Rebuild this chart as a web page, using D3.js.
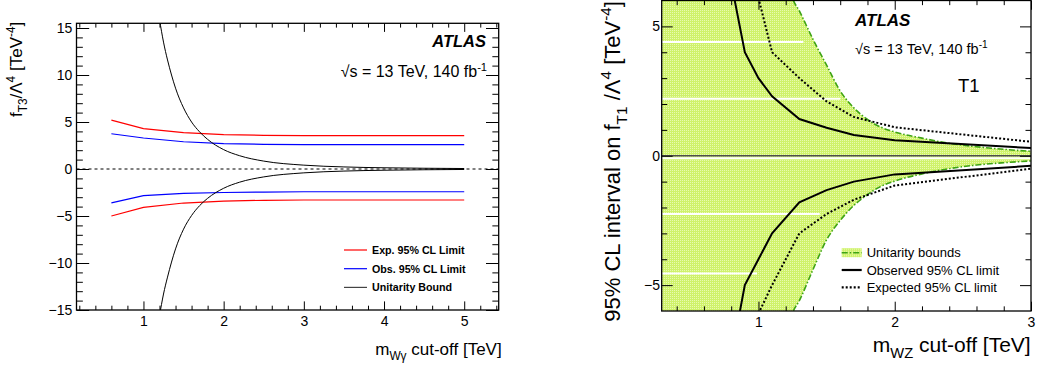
<!DOCTYPE html>
<html>
<head>
<meta charset="utf-8">
<script src="https://cdn.jsdelivr.net/npm/d3@7"></script>
<style>
body { margin: 0; background: #fff; }
svg text { font-family: "Liberation Sans", Arial, Helvetica, sans-serif; fill: #000; }
</style>
</head>
<body>
<svg id="chart" width="1038" height="367"></svg>
<script>
// ---- left panel: W gamma, f_T3 limits vs m(W gamma) cut-off ----
var wgMass   = [0.6, 1.0, 1.5, 2.0, 2.5, 3.0, 4.0, 5.0];
var wgExpUp  = [5.2, 4.3, 3.88, 3.65, 3.58, 3.55, 3.55, 3.55];
var wgExpLow = [-5.0, -4.08, -3.62, -3.42, -3.33, -3.3, -3.3, -3.3];
var wgObsUp  = [3.75, 3.3, 2.9, 2.7, 2.63, 2.6, 2.6, 2.6];
var wgObsLow = [-3.6, -2.84, -2.6, -2.5, -2.45, -2.42, -2.42, -2.42];
var wgUniMass = [1.2, 1.25, 1.3, 1.35, 1.4, 1.5, 1.6, 1.7, 1.8, 2.0, 2.2, 2.5, 3.0, 3.5, 4.0, 4.5, 5.0];
var wgUniUp   = [15.9, 13.5, 11.6, 10.0, 8.6, 6.5, 5.0, 3.95, 3.15, 2.06, 1.41, 0.84, 0.41, 0.22, 0.13, 0.08, 0.05];
var wgUniLow  = [-15.6, -13.3, -11.5, -9.9, -8.5, -6.4, -4.95, -3.9, -3.12, -2.05, -1.4, -0.84, -0.41, -0.22, -0.13, -0.08, -0.05];
var wgXTicks = [1, 2, 3, 4, 5];
var wgYTicks = [-15, -10, -5, 0, 5, 10, 15];
var wgLegend = ["Exp. 95% CL Limit", "Obs. 95% CL Limit", "Unitarity Bound"];

// ---- right panel: WZ, f_T1 interval vs m(WZ) cut-off ----
var wzObsMass = [0.8, 0.9, 1.0, 1.1, 1.3, 1.5, 1.7, 2.0, 3.0];
var wzObsUp   = [6.7, 4.0, 3.0, 2.3, 1.42, 1.08, 0.8, 0.6, 0.3];
var wzObsLow  = [-7.8, -5.0, -4.0, -3.0, -1.8, -1.33, -1.0, -0.72, -0.39];
var wzExpMass = [1.0, 1.1, 1.3, 1.5, 1.7, 2.0, 3.0];
var wzExpUp   = [6.1, 4.0, 3.0, 2.1, 1.5, 1.1, 0.54];
var wzExpLow  = [-6.1, -5.0, -3.0, -2.25, -1.7, -1.15, -0.5];
var wzUniMass = [1.2, 1.25, 1.3, 1.4, 1.5, 1.6, 1.7, 1.8, 1.9, 2.0, 2.2, 2.4, 2.6, 2.8, 3.0];
var wzUniUp   = [7.3, 6.1, 5.6, 4.5, 3.5, 2.5, 1.85, 1.4, 1.1, 0.92, 0.68, 0.48, 0.35, 0.25, 0.17];
var wzUniLow  = [-7.3, -6.1, -5.6, -4.4, -3.25, -2.5, -1.92, -1.5, -1.18, -0.98, -0.7, -0.5, -0.36, -0.27, -0.2];
var wzXTicks = [1, 2, 3];
var wzYTicks = [-5, 0, 5];
var wzLegend = ["Unitarity bounds", "Observed 95% CL limit", "Expected 95% CL limit"];
// white seams in the filled band: [value, end of seam in TeV]
var wzSeams = [[4.4, 1.33], [2.2, 1.6], [-0.1, 3.0], [-2.25, 1.45], [-4.55, 0.99]];

var svg = d3.select("#chart");
var font = '"Liberation Sans", Arial, Helvetica, sans-serif';
var green = "#3ea314";

// text with sub/superscripts: parts = [[text, "sub"|"sup"|undefined], ...]
function richText(sel, parts, size) {
    var cur = 0;
    parts.forEach(function(p) {
        var off = p[1] === "sub" ? 0.3 * size : p[1] === "sup" ? -0.42 * size : 0;
        sel.append("tspan")
            .attr("dy", off - cur)
            .attr("font-size", p[1] ? size * 0.7 : size)
            .text(p[0]);
        cur = off;
    });
}

function isInt(v) { return Math.abs(v - Math.round(v)) < 1e-6; }

function addTicks(axisFn, scale, tr, major, minor, len, pad, labelled) {
    var gMin = svg.append("g").attr("transform", tr)
        .call(axisFn(scale).tickValues(minor).tickSize(-len / 2).tickFormat(""));
    gMin.select(".domain").remove();
    var gMaj = svg.append("g").attr("transform", tr)
        .call(axisFn(scale).tickValues(major).tickSize(-len).tickPadding(pad)
            .tickFormat(labelled ? d3.format("d") : function() { return ""; }));
    gMaj.select(".domain").remove();
    gMaj.selectAll("text").attr("font-size", 14).attr("font-family", font).attr("fill", "#000");
}

function frame(x, y, xMajor, xMinor, yMajor, yMinor, xLen, yLen, xPad, yPad) {
    var x0 = x.range()[0], x1 = x.range()[1], y0 = y.range()[0], y1 = y.range()[1];
    addTicks(d3.axisBottom, x, "translate(0," + y0 + ")", xMajor, xMinor, xLen, xPad, true);
    addTicks(d3.axisTop, x, "translate(0," + y1 + ")", xMajor, xMinor, xLen, 0, false);
    addTicks(d3.axisLeft, y, "translate(" + x0 + ",0)", yMajor, yMinor, yLen, yPad, true);
    addTicks(d3.axisRight, y, "translate(" + x1 + ",0)", yMajor, yMinor, yLen, 0, false);
    svg.append("rect")
        .attr("x", x0).attr("y", y1)
        .attr("width", x1 - x0).attr("height", y0 - y1)
        .attr("fill", "none").attr("stroke", "#000").attr("stroke-width", 1.3);
}

var defs = svg.append("defs");
var pat = defs.append("pattern").attr("id", "uniFill")
    .attr("patternUnits", "userSpaceOnUse").attr("width", 2).attr("height", 2);
pat.append("rect").attr("width", 2).attr("height", 2).attr("fill", "#cff26a");
pat.append("rect").attr("width", 1).attr("height", 1).attr("fill", "#e8fab0");

// ================= left panel =================
var xL = d3.scaleLinear().domain([0.165, 5.43]).range([76.5, 498.7]);
var yL = d3.scaleLinear().domain([-15, 15.5]).range([310, 23.3]);

defs.append("clipPath").attr("id", "clipL").append("rect")
    .attr("x", 76.5).attr("y", 23.3).attr("width", 422.2).attr("height", 286.7);

var gL = svg.append("g").attr("clip-path", "url(#clipL)");
var lineL = d3.line().x(function(d) { return xL(d[0]); }).y(function(d) { return yL(d[1]); });

gL.append("line")
    .attr("x1", xL.range()[0]).attr("x2", xL.range()[1])
    .attr("y1", yL(0)).attr("y2", yL(0))
    .attr("stroke", "#000").attr("stroke-width", 1).attr("stroke-dasharray", "3,3");

[[wgExpUp, "#ff0000"], [wgExpLow, "#ff0000"], [wgObsUp, "#0000ff"], [wgObsLow, "#0000ff"]].forEach(function(s) {
    gL.append("path")
        .datum(d3.zip(wgMass, s[0]))
        .attr("fill", "none")
        .attr("stroke", s[1])
        .attr("stroke-width", 1.2)
        .attr("d", lineL);
});

[wgUniUp, wgUniLow].forEach(function(vals) {
    gL.append("path")
        .datum(d3.zip(wgUniMass, vals))
        .attr("fill", "none")
        .attr("stroke", "#000")
        .attr("stroke-width", 1)
        .attr("d", lineL.curve(d3.curveMonotoneX));
});
lineL.curve(d3.curveLinear);

frame(xL, yL, wgXTicks,
    d3.range(1, 28).map(function(i) { return i * 0.2; }).filter(function(v) { return !isInt(v); }),
    wgYTicks,
    d3.range(-15, 16).filter(function(v) { return v % 5 !== 0; }),
    8.6, 12.7, 5.8, 4.2);

// legend
var legL = svg.append("g").selectAll("g")
    .data(wgLegend)
    .enter().append("g")
    .attr("transform", function(d, i) { return "translate(0," + (250 + i * 18.7) + ")"; });
legL.append("line")
    .attr("x1", 344).attr("x2", 367)
    .attr("stroke", function(d, i) { return ["#ff0000", "#0000ff", "#444"][i]; })
    .attr("stroke-width", 1.2);
legL.append("text")
    .attr("x", 372).attr("dy", "0.36em")
    .attr("font-size", 10.7).attr("font-weight", "bold")
    .text(function(d) { return d; });

svg.append("text")
    .attr("x", 486).attr("y", 47.3)
    .attr("text-anchor", "end")
    .attr("font-size", 16.5).attr("font-weight", "bold").attr("font-style", "italic")
    .text("ATLAS");
richText(svg.append("text").attr("x", 340.7).attr("y", 77.3),
    [["\u221As = 13 TeV, 140 fb"], ["-1", "sup"]], 16);

richText(svg.append("text").attr("x", 501.7).attr("y", 355).attr("text-anchor", "end"),
    [["m"], ["W\u03B3", "sub"], [" cut-off [TeV]"]], 17);
richText(svg.append("text").attr("transform", "translate(22,21.7) rotate(-90)").attr("text-anchor", "end"),
    [["f"], ["T3", "sub"], ["/\u039B"], ["4", "sup"], [" [TeV"], ["-4", "sup"], ["]"]], 17);

// ================= right panel =================
var xR = d3.scaleLinear().domain([0.29, 3.0]).range([661.7, 1031]);
var yR = d3.scaleLinear().domain([-6, 6]).range([311, 0.5]);

defs.append("clipPath").attr("id", "clipR").append("rect")
    .attr("x", 661.7).attr("y", 0.5).attr("width", 369.3).attr("height", 310.5);

var gR = svg.append("g").attr("clip-path", "url(#clipR)");
var lineR = d3.line().x(function(d) { return xR(d[0]); }).y(function(d) { return yR(d[1]); });

var uniPts = d3.zip(wzUniMass, wzUniUp, wzUniLow);
uniPts.unshift([xR.domain()[0], wzUniUp[0], wzUniLow[0]]);
gR.append("path")
    .datum(uniPts)
    .attr("fill", "url(#uniFill)")
    .attr("d", d3.area()
        .x(function(d) { return xR(d[0]); })
        .y0(function(d) { return yR(d[2]); })
        .y1(function(d) { return yR(d[1]); })
        .curve(d3.curveMonotoneX));

gR.selectAll(".seam")
    .data(wzSeams)
    .enter().append("line")
    .attr("x1", xR.range()[0]).attr("x2", function(d) { return xR(d[1]); })
    .attr("y1", function(d) { return yR(d[0]); }).attr("y2", function(d) { return yR(d[0]); })
    .attr("stroke", "#fff").attr("stroke-width", 2);

gR.append("line")
    .attr("x1", xR.range()[0]).attr("x2", xR.range()[1])
    .attr("y1", yR(0)).attr("y2", yR(0))
    .attr("stroke", "#4d4d4d").attr("stroke-width", 1.6);

[wzUniUp, wzUniLow].forEach(function(vals) {
    gR.append("path")
        .datum(d3.zip(wzUniMass, vals))
        .attr("fill", "none")
        .attr("stroke", green)
        .attr("stroke-width", 1.6)
        .attr("stroke-dasharray", "6,2,1.5,2")
        .attr("d", lineR.curve(d3.curveMonotoneX));
});
lineR.curve(d3.curveLinear);

[wzObsUp, wzObsLow].forEach(function(vals) {
    gR.append("path")
        .datum(d3.zip(wzObsMass, vals))
        .attr("fill", "none")
        .attr("stroke", "#000")
        .attr("stroke-width", 2)
        .attr("d", lineR);
});
[wzExpUp, wzExpLow].forEach(function(vals) {
    gR.append("path")
        .datum(d3.zip(wzExpMass, vals))
        .attr("fill", "none")
        .attr("stroke", "#000")
        .attr("stroke-width", 2)
        .attr("stroke-dasharray", "2,2")
        .attr("d", lineR);
});

frame(xR, yR, wzXTicks,
    d3.range(2, 16).map(function(i) { return i * 0.2; }).filter(function(v) { return !isInt(v) && v > 0.29; }),
    wzYTicks,
    d3.range(-5, 6).filter(function(v) { return v % 5 !== 0; }),
    9.3, 11, 5.7, 1.7);

// legend
var legR = svg.append("g").selectAll("g")
    .data(wzLegend)
    .enter().append("g")
    .attr("transform", function(d, i) { return "translate(0," + (252.7 + i * 17.3) + ")"; });
legR.filter(function(d, i) { return i === 0; }).append("rect")
    .attr("x", 841.7).attr("y", -4.5).attr("width", 20).attr("height", 9)
    .attr("fill", "url(#uniFill)");
legR.append("line")
    .attr("x1", 841.7).attr("x2", 861.7)
    .attr("stroke", function(d, i) { return i === 0 ? green : "#000"; })
    .attr("stroke-width", function(d, i) { return i === 0 ? 1.6 : 2.2; })
    .attr("stroke-dasharray", function(d, i) { return ["6,2,1.5,2", null, "2,2"][i]; });
legR.append("text")
    .attr("x", 866.7).attr("dy", "0.36em")
    .attr("font-size", 13)
    .text(function(d) { return d; });

svg.append("text")
    .attr("x", 855).attr("y", 26)
    .attr("font-size", 17).attr("font-weight", "bold").attr("font-style", "italic")
    .text("ATLAS");
richText(svg.append("text").attr("x", 855).attr("y", 54.3),
    [["\u221As = 13 TeV, 140 fb"], ["-1", "sup"]], 14.5);
svg.append("text")
    .attr("x", 958).attr("y", 91.7)
    .attr("font-size", 18.5)
    .text("T1");

richText(svg.append("text").attr("x", 1030.7).attr("y", 351.7).attr("text-anchor", "end"),
    [["m"], ["WZ", "sub"], [" cut-off [TeV]"]], 21);
richText(svg.append("text").attr("transform", "translate(620,1) rotate(-90)").attr("text-anchor", "end"),
    [["95% CL interval on f"], ["T1", "sub"], [" /\u039B"], ["4", "sup"], [" [TeV"], ["-4", "sup"], ["]"]], 22);
</script>
</body>
</html>
